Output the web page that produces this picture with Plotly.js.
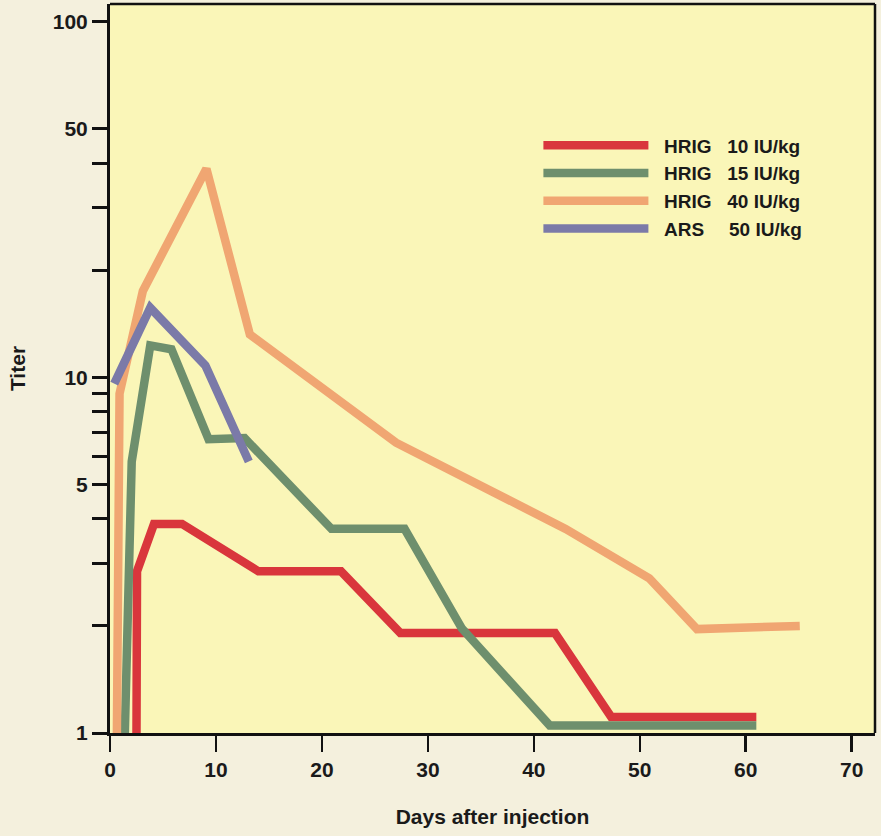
<!DOCTYPE html>
<html>
<head>
<meta charset="utf-8">
<script src="https://cdn.plot.ly/plotly-3.0.1.min.js"></script>
<style>html,body{margin:0;padding:0;background:#f4f0dd;}</style>
</head>
<body>
<div id="chart" style="width:881px;height:836px;"></div>
<script>
// Series names
const seriesNames = [
  "&nbsp;&nbsp;HRIG&nbsp;&nbsp;&nbsp;10 IU/kg",
  "&nbsp;&nbsp;HRIG&nbsp;&nbsp;&nbsp;15 IU/kg",
  "&nbsp;&nbsp;HRIG&nbsp;&nbsp;&nbsp;40 IU/kg",
  "&nbsp;&nbsp;ARS&nbsp;&nbsp;&nbsp;&nbsp;&#8201;50 IU/kg"
];

// HRIG 10 IU/kg
const daysHrig10  = [2.5, 2.55, 4.15, 6.8, 14.0, 21.8, 27.4, 42.0, 47.3, 61.0];
const titerHrig10 = [1.0, 2.85, 3.87, 3.87, 2.85, 2.85, 1.91, 1.91, 1.11, 1.11];

// HRIG 15 IU/kg
const daysHrig15  = [1.4, 2.05, 3.8, 5.8, 9.3, 12.7, 20.9, 27.8, 33.2, 41.5, 61.0];
const titerHrig15 = [1.0, 5.8, 12.3, 12.0, 6.7, 6.75, 3.75, 3.75, 1.97, 1.05, 1.05];

// HRIG 40 IU/kg
const daysHrig40  = [0.65, 0.9, 3.1, 9.1, 13.2, 27.0, 43.0, 50.9, 55.4, 65.1];
const titerHrig40 = [1.0, 9.0, 17.5, 38.6, 13.2, 6.55, 3.75, 2.72, 1.96, 2.0];

// ARS 50 IU/kg
const daysArs  = [0.4, 3.8, 9.0, 13.1];
const titerArs = [9.6, 15.7, 10.8, 5.8];

// Axis ticks
const xTickVals = [0, 10, 20, 30, 40, 50, 60, 70];
const yTickVals = [1, 2, 3, 4, 5, 6, 7, 8, 9, 10, 20, 30, 40, 50, 100];
const yTickText = ["1", "", "", "", "5", "", "", "", "", "10", "", "", "", "50", "100"];

const colors = ["#d9363c", "#6e8f6d", "#f0a672", "#7b7aa8"];
const xs = [daysHrig10, daysHrig15, daysHrig40, daysArs];
const ys = [titerHrig10, titerHrig15, titerHrig40, titerArs];

const traces = xs.map((x, i) => ({
  x: x, y: ys[i], type: "scatter", mode: "lines", name: seriesNames[i],
  line: {color: colors[i], width: 8.5}
}));

const fam = "Liberation Sans, Arial, sans-serif";
const font = {family: fam, color: "#1a1a1a", size: 21, weight: "bold"};

const layout = {
  width: 881, height: 836,
  margin: {l: 110, r: 6, t: 4, b: 103},
  paper_bgcolor: "#f4f0dd",
  plot_bgcolor: "#faf6b8",
  font: font,
  showlegend: true,
  legend: {
    x: 0.56, y: 0.832, xanchor: "left", yanchor: "top",
    bgcolor: "rgba(0,0,0,0)", itemwidth: 105,
    font: {family: fam, size: 19, color: "#1a1a1a", weight: "bold"}
  },
  xaxis: {
    range: [0, 72.2], tickmode: "array", tickvals: xTickVals,
    ticks: "outside", ticklen: 16, tickwidth: 2.5, tickcolor: "#111",
    showline: true, linecolor: "#111", linewidth: 3, mirror: false,
    showgrid: false, zeroline: false,
    tickfont: font,
    title: {text: "Days after injection", font: font, standoff: 30}
  },
  yaxis: {
    type: "log", range: [0, 2.05], tickmode: "array",
    tickvals: yTickVals, ticktext: yTickText,
    ticks: "outside", ticklen: 15, tickwidth: 3, tickcolor: "#111",
    showline: true, linecolor: "#111", linewidth: 3,
    showgrid: false, zeroline: false,
    tickfont: font,
    title: {text: "Titer", font: font, standoff: 22}
  },
  shapes: [
    {type: "line", xref: "paper", yref: "paper", x0: 0, x1: 1, y0: 1, y1: 1, line: {color: "#111", width: 2.5}},
    {type: "line", xref: "paper", yref: "paper", x0: 1, x1: 1, y0: 0, y1: 1, line: {color: "#111", width: 2.5}}
  ]
};

Plotly.newPlot("chart", traces, layout, {displayModeBar: false, staticPlot: true});
</script>
</body>
</html>
